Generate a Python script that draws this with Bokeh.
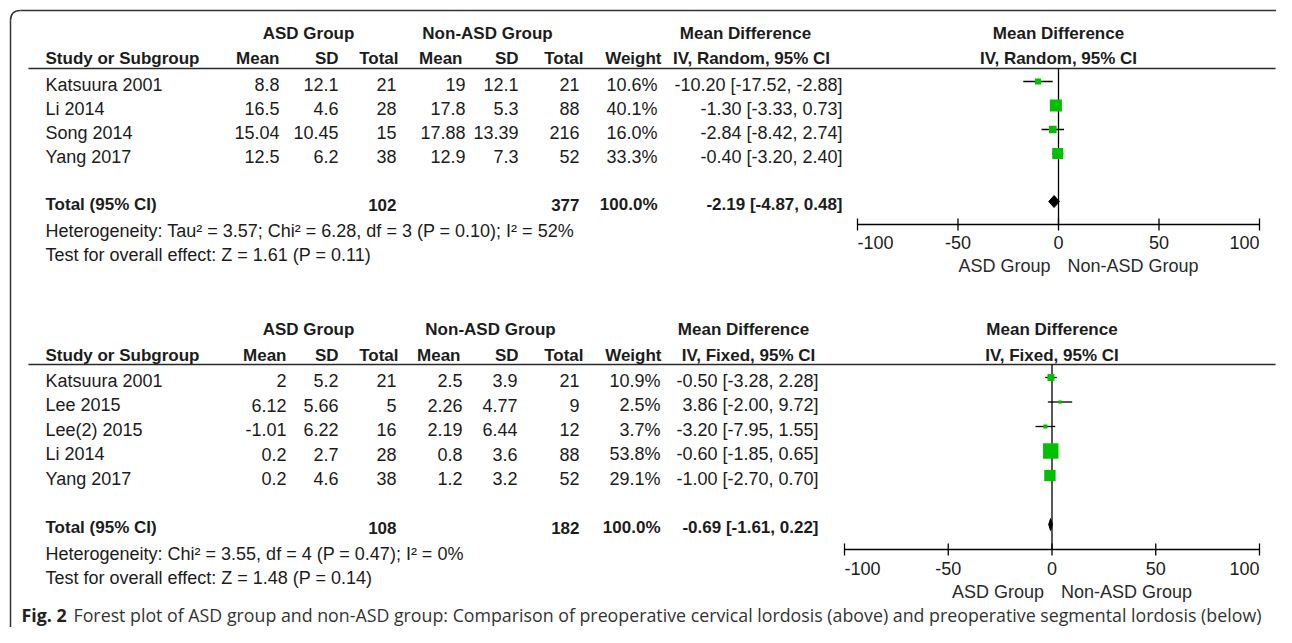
from bokeh.plotting import figure
from bokeh.models import Range1d, ColumnDataSource
from bokeh.core.properties import value
from bokeh.embed import file_html
from bokeh.resources import INLINE

# ---------------- data: top panel (cervical lordosis, random effects) ----------------
top_studies = ["Katsuura 2001", "Li 2014", "Song 2014", "Yang 2017"]
top_asd_mean = [8.8, 16.5, 15.04, 12.5]
top_asd_sd = [12.1, 4.6, 10.45, 6.2]
top_asd_n = [21, 28, 15, 38]
top_non_mean = [19, 17.8, 17.88, 12.9]
top_non_sd = [12.1, 5.3, 13.39, 7.3]
top_non_n = [21, 88, 216, 52]
top_weight = [10.6, 40.1, 16.0, 33.3]
top_md = [-10.20, -1.30, -2.84, -0.40]
top_lo = [-17.52, -3.33, -8.42, -3.20]
top_hi = [-2.88, 0.73, 2.74, 2.40]
top_total_n = [102, 377]
top_total_md = [-2.19, -4.87, 0.48]
top_method = "IV, Random, 95% CI"
top_het = "Heterogeneity: Tau\u00b2 = 3.57; Chi\u00b2 = 6.28, df = 3 (P = 0.10); I\u00b2 = 52%"
top_test = "Test for overall effect: Z = 1.61 (P = 0.11)"

# ---------------- data: bottom panel (segmental lordosis, fixed effects) ----------------
bot_studies = ["Katsuura 2001", "Lee 2015", "Lee(2) 2015", "Li 2014", "Yang 2017"]
bot_asd_mean = [2, 6.12, -1.01, 0.2, 0.2]
bot_asd_sd = [5.2, 5.66, 6.22, 2.7, 4.6]
bot_asd_n = [21, 5, 16, 28, 38]
bot_non_mean = [2.5, 2.26, 2.19, 0.8, 1.2]
bot_non_sd = [3.9, 4.77, 6.44, 3.6, 3.2]
bot_non_n = [21, 9, 12, 88, 52]
bot_weight = [10.9, 2.5, 3.7, 53.8, 29.1]
bot_md = [-0.50, 3.86, -3.20, -0.60, -1.00]
bot_lo = [-3.28, -2.00, -7.95, -1.85, -2.70]
bot_hi = [2.28, 9.72, 1.55, 0.65, 0.70]
bot_total_n = [108, 182]
bot_total_md = [-0.69, -1.61, 0.22]
bot_method = "IV, Fixed, 95% CI"
bot_het = "Heterogeneity: Chi\u00b2 = 3.55, df = 4 (P = 0.47); I\u00b2 = 0%"
bot_test = "Test for overall effect: Z = 1.48 (P = 0.14)"

axis_ticks = [-100, -50, 0, 50, 100]
group_labels = ["ASD Group", "Non-ASD Group"]
caption_bold = "Fig. 2"
caption_text = ("Forest plot of ASD group and non-ASD group: Comparison of preoperative "
                "cervical lordosis (above) and preoperative segmental lordosis (below)")

# ---------------- figure ----------------
W, H = 1276, 627
TXT = "#1c1c1c"
FONT = "Liberation Sans"
GREEN = "#00C000"

p = figure(width=W, height=H, output_backend="svg", toolbar_location=None,
           x_range=Range1d(0, W), y_range=Range1d(H, 0),
           x_axis_location=None, y_axis_location=None, min_border=0)
p.grid.visible = False
p.outline_line_color = None
p.background_fill_color = "white"
p.border_fill_color = "white"


def md_range(px_lo, px_hi):
    s = 200.0 / (px_hi - px_lo)
    return Range1d(-100 + (0 - px_lo) * s, -100 + (W - px_lo) * s)


p.extra_x_ranges = {"top": md_range(857, 1259), "bot": md_range(844, 1259)}


def txt(xs, ys, texts, align="left", bold=False, size="18px", color=TXT,
        font=FONT, rng="default", x_offset=0):
    src = ColumnDataSource(dict(x=list(xs), y=list(ys), t=list(texts)))
    p.text(x="x", y="y", text="t", source=src, text_align=align,
           text_baseline="middle", text_font=value(font), text_font_size=size,
           text_font_style="bold" if bold else "normal", text_color=color,
           x_range_name=rng, x_offset=x_offset)


def fmt(v):
    return str(v)


def ci(m, l, h):
    return "%.2f [%.2f, %.2f]" % (m, l, h)


def panel(cfg):
    studies = cfg["studies"]
    n = len(studies)
    rows = [cfg["y0"] + cfg["step"] * i for i in range(n)]
    ytot = cfg["y0"] + cfg["step"] * (n + 1)
    cx = cfg["cols"]
    rng = cfg["rng"]
    # header rows
    h1, h2 = cfg["h1"], cfg["h2"]
    txt([cfg["g1"], cfg["g2"], cfg["mdh1"]], [h1] * 3,
        ["ASD Group", "Non-ASD Group", "Mean Difference"], align="center", bold=True, size="17px")
    txt([45], [h2], ["Study or Subgroup"], bold=True, size="17px")
    txt(cfg["hcols"], [h2] * 7, ["Mean", "SD", "Total", "Mean", "SD", "Total", "Weight"],
        align="right", bold=True, size="17px")
    txt([cfg["mdh2"]], [h2], [cfg["method"]], align="center", bold=True, size="17px")
    # header underline
    p.segment(x0=[28], y0=[cfg["line"]], x1=[1275], y1=[cfg["line"]], line_color="#2a2a2a", line_width=1.4)
    # body
    txt([45] * n, rows, studies)
    cols = [cfg["asd_mean"], cfg["asd_sd"], cfg["asd_n"], cfg["non_mean"], cfg["non_sd"], cfg["non_n"]]
    for xpos, col in zip(cx[:6], cols):
        txt([xpos] * n, rows, [fmt(v) for v in col], align="right")
    txt([cx[6]] * n, rows, ["%.1f%%" % w for w in cfg["weight"]], align="right")
    txt([cx[7]] * n, rows, [ci(m, l, h) for m, l, h in zip(cfg["md"], cfg["lo"], cfg["hi"])], align="right")
    # total row
    txt([45], [ytot], ["Total (95% CI)"], bold=True, size="17px")
    txt([cx[2], cx[5], cx[6]], [ytot] * 3,
        [str(cfg["tot_n"][0]), str(cfg["tot_n"][1]), "100.0%"], align="right", bold=True, size="17px")
    tm = cfg["tot_md"]
    txt([cx[7]], [ytot], [ci(*tm)], align="right", bold=True, size="17px")
    txt([45, 45], [ytot + cfg["het_gap"], ytot + cfg["het_gap"] + cfg["step"]], [cfg["het"], cfg["test"]])

    # ---- forest panel ----
    mshift = cfg["mshift"]
    mrows = [r - mshift for r in rows]
    yax = cfg["axis"]
    txt([0, 0], [h1, h2], ["Mean Difference", cfg["method"]], align="center", bold=True, size="17px", rng=rng)
    p.segment(x0=[0], y0=[cfg["line"]], x1=[0], y1=[yax], line_color="black", line_width=1.3, x_range_name=rng)
    p.segment(x0=cfg["lo"], y0=mrows, x1=cfg["hi"], y1=mrows, line_color="black", line_width=1.3, x_range_name=rng)
    sizes = [cfg["k"] * (w ** 0.5) for w in cfg["weight"]]
    p.scatter(x=cfg["md"], y=mrows, size=sizes, marker="square", fill_color=GREEN,
              line_color=None, x_range_name=rng)
    yd = ytot - mshift
    p.patch(x=[tm[1], tm[0], tm[2], tm[0]], y=[yd, yd - 6, yd, yd + 6], fill_color="black",
            line_color="black", line_width=1, x_range_name=rng)
    p.segment(x0=[axis_ticks[0]], y0=[yax], x1=[axis_ticks[-1]], y1=[yax], line_color="black",
              line_width=1.4, x_range_name=rng)
    p.segment(x0=axis_ticks, y0=[yax - 6] * len(axis_ticks), x1=axis_ticks, y1=[yax + 6] * len(axis_ticks),
              line_color="black", line_width=1.3, x_range_name=rng)
    for t in axis_ticks:
        al = "left" if t == axis_ticks[0] else ("right" if t == axis_ticks[-1] else "center")
        txt([t], [cfg["ticklab"]], [str(t)], align=al, rng=rng)
    txt([0], [cfg["grp"]], [group_labels[0]], align="right", rng=rng, x_offset=-8, color="#2a2a2a")
    txt([0], [cfg["grp"]], [group_labels[1]], align="left", rng=rng, x_offset=9, color="#2a2a2a")


panel(dict(studies=top_studies, asd_mean=top_asd_mean, asd_sd=top_asd_sd, asd_n=top_asd_n,
           non_mean=top_non_mean, non_sd=top_non_sd, non_n=top_non_n, weight=top_weight,
           md=top_md, lo=top_lo, hi=top_hi, tot_n=top_total_n, tot_md=top_total_md,
           method=top_method, het=top_het, test=top_test, rng="top",
           y0=84, step=24, h1=33, h2=58, line=68, het_gap=26, mshift=3,
           axis=224, ticklab=242, grp=265, k=1.9,
           g1=308, g2=487, mdh1=745, mdh2=751,
           hcols=[279, 338, 398, 462, 518, 583, 661],
           cols=[279, 338, 396, 465, 518, 579, 657, 842]))

panel(dict(studies=bot_studies, asd_mean=bot_asd_mean, asd_sd=bot_asd_sd, asd_n=bot_asd_n,
           non_mean=bot_non_mean, non_sd=bot_non_sd, non_n=bot_non_n, weight=bot_weight,
           md=bot_md, lo=bot_lo, hi=bot_hi, tot_n=bot_total_n, tot_md=bot_total_md,
           method=bot_method, het=bot_het, test=bot_test, rng="bot",
           y0=380, step=24.5, h1=329, h2=355, line=364, het_gap=26, mshift=3,
           axis=549, ticklab=568, grp=591, k=2.1,
           g1=308, g2=490, mdh1=743, mdh2=748,
           hcols=[286, 338, 398, 460, 518, 583, 661],
           cols=[286, 338, 396, 462, 517, 579, 660, 818]))

# caption (kept inside the 627px-high canvas)
txt([21], [614], [caption_bold], bold=True, size="17.8px", font="Open Sans", color="#222222")
txt([73], [614], [caption_text], size="17.8px", font="Open Sans", color="#333333")

# rounded frame (top and left edges visible)
p.segment(x0=[20], y0=[10], x1=[W], y1=[10], line_color="#333333", line_width=1.5)
p.segment(x0=[10], y0=[20], x1=[10], y1=[H], line_color="#333333", line_width=1.5)
p.quadratic(x0=[10], y0=[20], x1=[20], y1=[10], cx=[10], cy=[10], line_color="#333333", line_width=1.5)

open("out.html", "w").write(file_html(p, INLINE))
